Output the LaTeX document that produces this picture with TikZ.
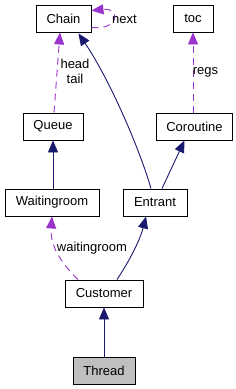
\documentclass[tikz,border=0pt]{standalone}
\usepackage{fontspec}
\setmainfont{Liberation Sans}
\usetikzlibrary{arrows.meta,calc}
\definecolor{navy}{HTML}{191970}
\definecolor{purp}{HTML}{9A32CD}
\begin{document}
\begin{tikzpicture}[x=1pt,y=-1pt,
  box/.style={draw=black,line width=0.9pt,fill=white,minimum height=27pt,inner sep=0pt,font=\fontsize{13}{15}\selectfont},
  lbl/.style={inner sep=0pt,font=\fontsize{13}{15}\selectfont},
  inh/.style={draw=navy,line width=0.9pt,-{Triangle[length=12pt,width=10pt]}},
  use/.style={draw=purp,line width=0.9pt,dash pattern=on 7pt off 5pt,-{Triangle[length=12pt,width=10pt]}}]
\useasboundingbox (0,0) rectangle (236,389);
\fill[white] (0,0) rectangle (236,389);
\node[box,minimum width=55pt] (chain) at (63.5,18.5) {Chain};
\node[box,minimum width=40pt] (toc) at (193,18.5) {toc};
\node[box,minimum width=60pt] (queue) at (53,126.5) {Queue};
\node[box,minimum width=76pt] (corout) at (194.5,126.5) {Coroutine};
\node[box,minimum width=94pt] (wroom) at (52,202.5) {Waitingroom};
\node[box,minimum width=64pt] (entrant) at (155,202.5) {Entrant};
\node[box,minimum width=78pt] (cust) at (104,293.5) {Customer};
\node[box,minimum width=62pt,fill={rgb,255:red,191;green,191;blue,191}] (thread) at (104,370.5) {Thread};
% self loop
\draw[use] ($(chain.south east)+(0,-5)$) .. controls +(29,3) and +(29,-3) .. ($(chain.north east)+(0,6)$);
\node[lbl,anchor=west] (lnext) at (112,19) {next};
% Queue -> Chain
\draw[use] ($(queue.north)+(1,0)$) -- ($(chain.south)+(-3.5,0)$);
\node[lbl,align=center] (lhead) at (75,71) {head\\tail};
% Coroutine -> toc
\draw[use] (corout.north -| toc.south) -- (toc.south);
\node[lbl] (lregs) at (205.5,72) {regs};
% Waitingroom -> Queue
\draw[inh] (wroom.north -| queue.south) -- (queue.south);
% Entrant -> Chain
\draw[inh] ($(entrant.north)+(-4,0)$) .. controls (140,150) and (110,80) .. ($(chain.south east)+(-13,1)$);
% Entrant -> Coroutine
\draw[inh] ($(entrant.north)+(7,0)$) -- ($(corout.south)+(-10,0)$);
% Customer -> Waitingroom
\draw[use] ($(cust.north)+(-26,0)$) .. controls (60,262) and (50,245) .. (wroom.south);
\node[lbl] (lwroom) at (92,248) {waitingroom};
% Customer -> Entrant
\draw[inh] ($(cust.north)+(13,0)$) .. controls (130,260) and (140,240) .. ($(entrant.south)+(-9,0)$);
% Thread -> Customer
\draw[inh] (thread.north) -- (cust.south);
\end{tikzpicture}
\end{document}
